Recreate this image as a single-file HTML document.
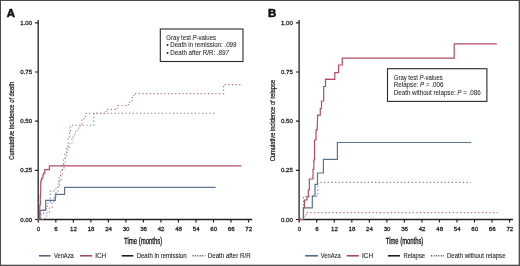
<!DOCTYPE html>
<html><head><meta charset="utf-8"><style>
html,body{margin:0;padding:0;background:#fff;}
.fig{position:relative;width:520px;height:266px;overflow:hidden;}
svg{position:absolute;left:0;top:0;will-change:transform;}
text{font-family:"Liberation Sans",sans-serif;}
</style></head><body>
<div class="fig"><svg width="520" height="266" viewBox="0 0 520 266">
<path d="M38.2,20.0 L38.2,219.5 M37.6,219.5 L252.2,219.5" stroke="#222" stroke-width="1.3" fill="none"/>
<path d="M35.0,22.8 L38.2,22.8 M35.0,72.0 L38.2,72.0 M35.0,121.2 L38.2,121.2 M35.0,170.3 L38.2,170.3 M35.0,219.5 L38.2,219.5 M38.30,219.5 L38.30,222.5 M55.82,219.5 L55.82,222.5 M73.33,219.5 L73.33,222.5 M90.85,219.5 L90.85,222.5 M108.37,219.5 L108.37,222.5 M125.88,219.5 L125.88,222.5 M143.40,219.5 L143.40,222.5 M160.92,219.5 L160.92,222.5 M178.43,219.5 L178.43,222.5 M195.95,219.5 L195.95,222.5 M213.47,219.5 L213.47,222.5 M230.98,219.5 L230.98,222.5 M248.50,219.5 L248.50,222.5 " stroke="#222" stroke-width="1.2" fill="none"/>
<text x="32.2" y="24.85" font-size="6.15" text-anchor="end" fill="#1e1e1e" stroke="#1e1e1e" stroke-width="0.28" >1.00</text>
<text x="32.2" y="74.05" font-size="6.15" text-anchor="end" fill="#1e1e1e" stroke="#1e1e1e" stroke-width="0.28" >0.75</text>
<text x="32.2" y="123.25" font-size="6.15" text-anchor="end" fill="#1e1e1e" stroke="#1e1e1e" stroke-width="0.28" >0.50</text>
<text x="32.2" y="172.35000000000002" font-size="6.15" text-anchor="end" fill="#1e1e1e" stroke="#1e1e1e" stroke-width="0.28" >0.25</text>
<text x="32.2" y="221.55" font-size="6.15" text-anchor="end" fill="#1e1e1e" stroke="#1e1e1e" stroke-width="0.28" >0.00</text>
<text x="38.50" y="231.2" font-size="6.15" text-anchor="middle" fill="#1e1e1e" stroke="#1e1e1e" stroke-width="0.28" >0</text>
<text x="56.02" y="231.2" font-size="6.15" text-anchor="middle" fill="#1e1e1e" stroke="#1e1e1e" stroke-width="0.28" >6</text>
<text x="73.53" y="231.2" font-size="6.15" text-anchor="middle" fill="#1e1e1e" stroke="#1e1e1e" stroke-width="0.28" >12</text>
<text x="91.05" y="231.2" font-size="6.15" text-anchor="middle" fill="#1e1e1e" stroke="#1e1e1e" stroke-width="0.28" >18</text>
<text x="108.57" y="231.2" font-size="6.15" text-anchor="middle" fill="#1e1e1e" stroke="#1e1e1e" stroke-width="0.28" >24</text>
<text x="126.08" y="231.2" font-size="6.15" text-anchor="middle" fill="#1e1e1e" stroke="#1e1e1e" stroke-width="0.28" >30</text>
<text x="143.60" y="231.2" font-size="6.15" text-anchor="middle" fill="#1e1e1e" stroke="#1e1e1e" stroke-width="0.28" >36</text>
<text x="161.12" y="231.2" font-size="6.15" text-anchor="middle" fill="#1e1e1e" stroke="#1e1e1e" stroke-width="0.28" >42</text>
<text x="178.63" y="231.2" font-size="6.15" text-anchor="middle" fill="#1e1e1e" stroke="#1e1e1e" stroke-width="0.28" >48</text>
<text x="196.15" y="231.2" font-size="6.15" text-anchor="middle" fill="#1e1e1e" stroke="#1e1e1e" stroke-width="0.28" >54</text>
<text x="213.67" y="231.2" font-size="6.15" text-anchor="middle" fill="#1e1e1e" stroke="#1e1e1e" stroke-width="0.28" >60</text>
<text x="231.18" y="231.2" font-size="6.15" text-anchor="middle" fill="#1e1e1e" stroke="#1e1e1e" stroke-width="0.28" >66</text>
<text x="248.70" y="231.2" font-size="6.15" text-anchor="middle" fill="#1e1e1e" stroke="#1e1e1e" stroke-width="0.28" >72</text>
<text x="6.8" y="16.85" font-size="11.4" font-weight="bold" fill="#111" stroke="#111" stroke-width="0.55" >A</text>
<text transform="translate(14.2,120.8) rotate(-90)" x="0" y="0" font-size="8.0" text-anchor="middle" stroke="#1e1e1e" stroke-width="0.25" textLength="78" lengthAdjust="spacingAndGlyphs" fill="#1e1e1e">Cumulative incidence of death</text>
<path d="M299.1,20.0 L299.1,219.5 M298.5,219.5 L513.1,219.5" stroke="#222" stroke-width="1.3" fill="none"/>
<path d="M295.90000000000003,22.8 L299.1,22.8 M295.90000000000003,72.0 L299.1,72.0 M295.90000000000003,121.2 L299.1,121.2 M295.90000000000003,170.3 L299.1,170.3 M295.90000000000003,219.5 L299.1,219.5 M299.20,219.5 L299.20,222.5 M316.73,219.5 L316.73,222.5 M334.27,219.5 L334.27,222.5 M351.80,219.5 L351.80,222.5 M369.33,219.5 L369.33,222.5 M386.87,219.5 L386.87,222.5 M404.40,219.5 L404.40,222.5 M421.93,219.5 L421.93,222.5 M439.47,219.5 L439.47,222.5 M457.00,219.5 L457.00,222.5 M474.53,219.5 L474.53,222.5 M492.07,219.5 L492.07,222.5 M509.60,219.5 L509.60,222.5 " stroke="#222" stroke-width="1.2" fill="none"/>
<text x="292.9" y="24.85" font-size="6.15" text-anchor="end" fill="#1e1e1e" stroke="#1e1e1e" stroke-width="0.28" >1.00</text>
<text x="292.9" y="74.05" font-size="6.15" text-anchor="end" fill="#1e1e1e" stroke="#1e1e1e" stroke-width="0.28" >0.75</text>
<text x="292.9" y="123.25" font-size="6.15" text-anchor="end" fill="#1e1e1e" stroke="#1e1e1e" stroke-width="0.28" >0.50</text>
<text x="292.9" y="172.35000000000002" font-size="6.15" text-anchor="end" fill="#1e1e1e" stroke="#1e1e1e" stroke-width="0.28" >0.25</text>
<text x="292.9" y="221.55" font-size="6.15" text-anchor="end" fill="#1e1e1e" stroke="#1e1e1e" stroke-width="0.28" >0.00</text>
<text x="299.40" y="231.2" font-size="6.15" text-anchor="middle" fill="#1e1e1e" stroke="#1e1e1e" stroke-width="0.28" >0</text>
<text x="316.93" y="231.2" font-size="6.15" text-anchor="middle" fill="#1e1e1e" stroke="#1e1e1e" stroke-width="0.28" >6</text>
<text x="334.47" y="231.2" font-size="6.15" text-anchor="middle" fill="#1e1e1e" stroke="#1e1e1e" stroke-width="0.28" >12</text>
<text x="352.00" y="231.2" font-size="6.15" text-anchor="middle" fill="#1e1e1e" stroke="#1e1e1e" stroke-width="0.28" >18</text>
<text x="369.53" y="231.2" font-size="6.15" text-anchor="middle" fill="#1e1e1e" stroke="#1e1e1e" stroke-width="0.28" >24</text>
<text x="387.07" y="231.2" font-size="6.15" text-anchor="middle" fill="#1e1e1e" stroke="#1e1e1e" stroke-width="0.28" >30</text>
<text x="404.60" y="231.2" font-size="6.15" text-anchor="middle" fill="#1e1e1e" stroke="#1e1e1e" stroke-width="0.28" >36</text>
<text x="422.13" y="231.2" font-size="6.15" text-anchor="middle" fill="#1e1e1e" stroke="#1e1e1e" stroke-width="0.28" >42</text>
<text x="439.67" y="231.2" font-size="6.15" text-anchor="middle" fill="#1e1e1e" stroke="#1e1e1e" stroke-width="0.28" >48</text>
<text x="457.20" y="231.2" font-size="6.15" text-anchor="middle" fill="#1e1e1e" stroke="#1e1e1e" stroke-width="0.28" >54</text>
<text x="474.73" y="231.2" font-size="6.15" text-anchor="middle" fill="#1e1e1e" stroke="#1e1e1e" stroke-width="0.28" >60</text>
<text x="492.27" y="231.2" font-size="6.15" text-anchor="middle" fill="#1e1e1e" stroke="#1e1e1e" stroke-width="0.28" >66</text>
<text x="509.80" y="231.2" font-size="6.15" text-anchor="middle" fill="#1e1e1e" stroke="#1e1e1e" stroke-width="0.28" >72</text>
<text x="267.9" y="16.85" font-size="11.4" font-weight="bold" fill="#111" stroke="#111" stroke-width="0.55" >B</text>
<text transform="translate(274.7,120.6) rotate(-90)" x="0" y="0" font-size="8.0" text-anchor="middle" stroke="#1e1e1e" stroke-width="0.25" textLength="81.5" lengthAdjust="spacingAndGlyphs" fill="#1e1e1e">Cumulative incidence of relapse</text>
<text x="124.1" y="243.9" font-size="8.6" textLength="38.2" lengthAdjust="spacingAndGlyphs" fill="#1e1e1e" stroke="#1e1e1e" stroke-width="0.35" >Time (months)</text>
<text x="385.8" y="243.9" font-size="8.6" textLength="37.5" lengthAdjust="spacingAndGlyphs" fill="#1e1e1e" stroke="#1e1e1e" stroke-width="0.35" >Time (months)</text>
<path d="M38.30,219.50 L41.00,219.50 L41.00,214.00 L43.50,214.00 L43.50,210.00 L46.00,210.00 L46.00,206.00 L48.00,206.00 L48.00,202.00 L50.30,202.00 L50.30,191.10 L54.00,191.10 L54.00,189.00 L57.50,189.00 L57.50,184.00 L59.00,184.00 L59.00,178.00 L60.50,178.00 L60.50,172.00 L62.00,172.00 L62.00,166.00 L63.50,166.00 L63.50,160.00 L65.00,160.00 L65.00,154.00 L66.50,154.00 L66.50,147.00 L68.00,147.00 L68.00,139.00 L69.50,139.00 L69.50,131.00 L70.30,131.00 L70.30,125.30 L93.80,125.30 L93.80,113.20 L216.00,113.20" stroke="#6a829a" stroke-width="1.1" fill="none" stroke-dasharray="1.2 2.45" stroke-opacity="1"/>
<path d="M38.30,219.50 L45.00,219.50 L45.00,216.00 L47.00,216.00 L47.00,212.50 L49.50,212.50 L49.50,207.50 L52.00,207.50 L52.00,203.00 L54.00,203.00 L54.00,198.00 L56.00,198.00 L56.00,192.00 L58.00,192.00 L58.00,186.00 L59.50,186.00 L59.50,180.00 L61.00,180.00 L61.00,174.00 L62.50,174.00 L62.50,168.00 L64.00,168.00 L64.00,162.00 L65.50,162.00 L65.50,156.00 L67.00,156.00 L67.00,150.00 L69.00,150.00 L69.00,143.00 L72.00,143.00 L72.00,137.00 L74.80,137.00 L74.80,132.00 L77.40,132.00 L77.40,128.00 L80.00,128.00 L80.00,124.00 L82.00,124.00 L82.00,120.00 L84.00,120.00 L84.00,116.50 L85.50,116.50 L85.50,113.40 L104.50,113.40 L104.50,111.50 L107.00,111.50 L107.00,109.40 L115.50,109.40 L115.50,108.00 L118.00,108.00 L118.00,105.50 L127.00,105.50 L127.00,104.50 L129.50,104.50 L129.50,101.00 L132.00,101.00 L132.00,97.50 L133.80,97.50 L133.80,93.60 L223.60,93.60 L223.60,84.60 L242.10,84.60" stroke="#bc6a82" stroke-width="1.1" fill="none" stroke-dasharray="1.2 2.45" stroke-opacity="1"/>
<path d="M38.30,219.50 L40.00,219.50 L40.00,210.40 L45.70,210.40 L45.70,200.40 L55.30,200.40 L55.30,194.30 L64.60,194.30 L64.60,187.40 L215.60,187.40" stroke="#5a7691" stroke-width="1.2" fill="none" stroke-opacity="1"/>
<path d="M38.30,219.50 L39.30,219.50 L39.30,214.00 L39.80,214.00 L39.80,205.00 L40.30,205.00 L40.30,195.00 L40.70,195.00 L40.70,182.00 L41.10,182.00 L41.10,180.20 L41.70,180.20 L41.70,178.00 L43.00,178.00 L43.00,174.50 L43.80,174.50 L43.80,172.90 L44.70,172.90 L44.70,169.70 L49.40,169.70 L49.40,165.80 L241.40,165.80" stroke="#b44c66" stroke-width="1.2" fill="none" stroke-opacity="1"/>
<path d="M299.10,219.50 L303.40,219.50 L303.40,196.20 L317.80,196.20 L317.80,182.40 L470.60,182.40" stroke="#6a829a" stroke-width="1.1" fill="none" stroke-dasharray="1.2 2.45" stroke-opacity="1"/>
<path d="M299.10,219.50 L304.00,219.50 L304.00,216.00 L306.00,216.00 L306.00,212.60 L497.50,212.60" stroke="#bc6a82" stroke-width="1.1" fill="none" stroke-dasharray="1.2 2.45" stroke-opacity="1"/>
<path d="M299.10,219.50 L303.40,219.50 L303.40,207.80 L312.30,207.80 L312.30,196.20 L315.00,196.20 L315.00,184.30 L317.50,184.30 L317.50,173.00 L323.40,173.00 L323.40,159.30 L337.40,159.30 L337.40,142.50 L471.20,142.50" stroke="#5a7691" stroke-width="1.2" fill="none" stroke-opacity="1"/>
<path d="M299.10,219.50 L303.50,219.50 L303.50,207.60 L304.40,207.60 L304.40,200.00 L307.00,200.00 L307.00,196.80 L308.30,196.80 L308.30,190.00 L309.30,190.00 L309.30,179.00 L313.00,179.00 L313.00,169.30 L313.80,169.30 L313.80,160.00 L314.50,160.00 L314.50,140.00 L316.00,140.00 L316.00,129.80 L317.20,129.80 L317.60,115.10 L320.30,115.10 L320.30,108.50 L321.50,108.50 L321.50,101.00 L323.70,101.00 L323.70,86.50 L325.50,86.50 L325.50,79.20 L334.80,79.30 L334.80,72.60 L338.60,72.60 L338.60,65.00 L342.30,65.00 L342.30,58.20 L454.20,58.20 L454.20,43.80 L496.90,43.80" stroke="#b44c66" stroke-width="1.2" fill="none" stroke-opacity="1"/>
<rect x="160.3" y="29" width="82.7" height="32.5" fill="#fff" stroke="#2a2a2a" stroke-width="1.1"/>
<text x="166.3" y="39.6" font-size="6.3" textLength="49.8" lengthAdjust="spacingAndGlyphs" fill="#1e1e1e" stroke="#1e1e1e" stroke-width="0.05" >Gray test <tspan font-style="italic">P</tspan>-values</text>
<text x="166.4" y="47.2" font-size="6.3" textLength="70.0" lengthAdjust="spacingAndGlyphs" fill="#1e1e1e" stroke="#1e1e1e" stroke-width="0.05" >• Death in remission: <tspan font-style="italic">.099</tspan></text>
<text x="166.4" y="54.8" font-size="6.3" textLength="62.6" lengthAdjust="spacingAndGlyphs" fill="#1e1e1e" stroke="#1e1e1e" stroke-width="0.05" >• Death after R/R: <tspan font-style="italic">.897</tspan></text>
<rect x="387.5" y="68.7" width="99.4" height="32.7" fill="#fff" stroke="#2a2a2a" stroke-width="1.1"/>
<text x="393.8" y="79.9" font-size="6.3" textLength="49.0" lengthAdjust="spacingAndGlyphs" fill="#1e1e1e" stroke="#1e1e1e" stroke-width="0.05" >Gray test <tspan font-style="italic">P</tspan>-values</text>
<text x="393.8" y="87.1" font-size="6.3" textLength="49.7" lengthAdjust="spacingAndGlyphs" fill="#1e1e1e" stroke="#1e1e1e" stroke-width="0.05" >Relapse: <tspan font-style="italic">P</tspan> = .006</text>
<text x="393.8" y="94.6" font-size="6.3" textLength="86.9" lengthAdjust="spacingAndGlyphs" fill="#1e1e1e" stroke="#1e1e1e" stroke-width="0.05" >Death without relapse: <tspan font-style="italic">P</tspan> = .086</text>
<path d="M39,255.8 L50.6,255.8" stroke="#48627e" stroke-width="1.5" fill="none"/>
<text x="54" y="257.7" font-size="6.8" textLength="19.7" lengthAdjust="spacingAndGlyphs" fill="#1e1e1e" stroke="#1e1e1e" stroke-width="0.1" >VenAza</text>
<path d="M80,255.8 L92.1,255.8" stroke="#9e3e5a" stroke-width="1.5" fill="none"/>
<text x="95.2" y="257.7" font-size="6.8" textLength="11" lengthAdjust="spacingAndGlyphs" fill="#1e1e1e" stroke="#1e1e1e" stroke-width="0.1" >ICH</text>
<path d="M121.7,255.8 L133.3,255.8" stroke="#111" stroke-width="1.5" fill="none"/>
<text x="136.7" y="257.7" font-size="6.8" textLength="49.8" lengthAdjust="spacingAndGlyphs" fill="#1e1e1e" stroke="#1e1e1e" stroke-width="0.1" >Death in remission</text>
<path d="M192.4,255.8 L205.2,255.8" stroke="#555" stroke-width="1.5" stroke-dasharray="1.1 1.35" fill="none"/>
<text x="207.8" y="257.7" font-size="6.8" textLength="42.8" lengthAdjust="spacingAndGlyphs" fill="#1e1e1e" stroke="#1e1e1e" stroke-width="0.1" >Death after R/R</text>
<path d="M305.2,255.8 L317.9,255.8" stroke="#48627e" stroke-width="1.5" fill="none"/>
<text x="320.8" y="257.7" font-size="6.8" textLength="19.8" lengthAdjust="spacingAndGlyphs" fill="#1e1e1e" stroke="#1e1e1e" stroke-width="0.1" >VenAza</text>
<path d="M346.7,255.8 L358.8,255.8" stroke="#9e3e5a" stroke-width="1.5" fill="none"/>
<text x="361.9" y="257.7" font-size="6.8" textLength="11.3" lengthAdjust="spacingAndGlyphs" fill="#1e1e1e" stroke="#1e1e1e" stroke-width="0.1" >ICH</text>
<path d="M387.9,255.8 L400,255.8" stroke="#111" stroke-width="1.5" fill="none"/>
<text x="403.5" y="257.7" font-size="6.8" textLength="21.6" lengthAdjust="spacingAndGlyphs" fill="#1e1e1e" stroke="#1e1e1e" stroke-width="0.1" >Relapse</text>
<path d="M431,255.8 L444,255.8" stroke="#555" stroke-width="1.5" stroke-dasharray="1.1 1.35" fill="none"/>
<text x="447" y="257.7" font-size="6.8" textLength="58.5" lengthAdjust="spacingAndGlyphs" fill="#1e1e1e" stroke="#1e1e1e" stroke-width="0.1" >Death without relapse</text>
<rect x="0" y="0" width="1" height="266" fill="#4a4a4a"/>
<rect x="0" y="0" width="520" height="1" fill="#4a4a4a"/>
<rect x="518.7" y="0" width="1.3" height="266" fill="#4a4a4a"/>
<rect x="0" y="264.7" width="520" height="1.3" fill="#4a4a4a"/>
</svg></div>
</body></html>
